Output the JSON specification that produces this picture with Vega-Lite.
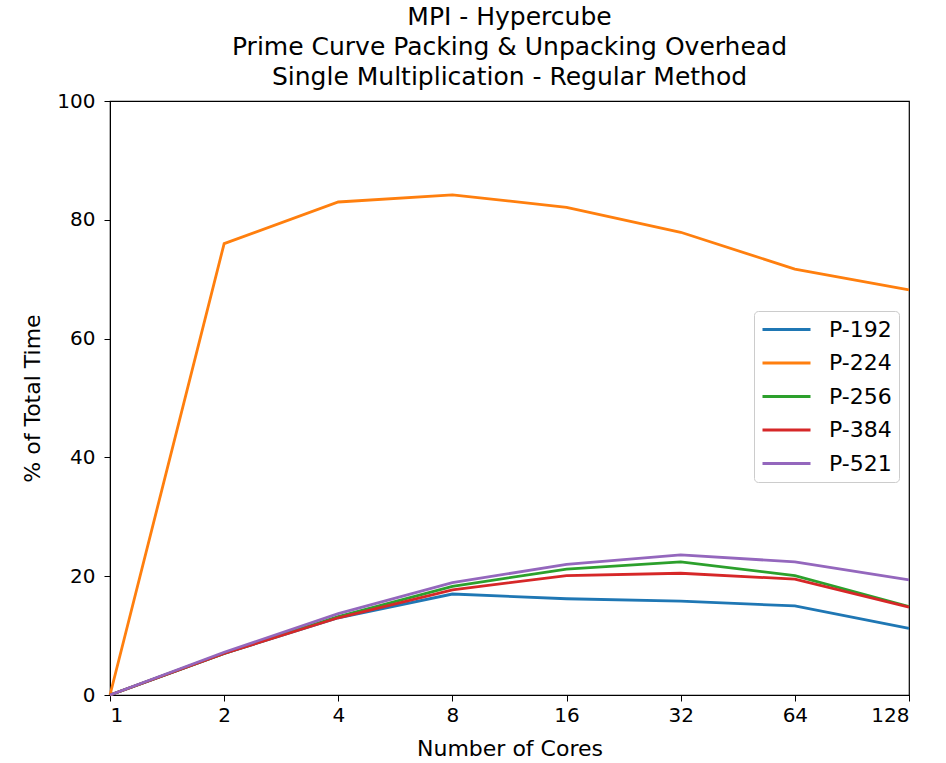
{
  "$schema": "https://vega.github.io/schema/vega-lite/v6.json",
  "width": 799,
  "height": 594,
  "autosize": {"type": "none"},
  "padding": {"left": 110, "top": 101, "right": 37, "bottom": 68},
  "background": "white",
  "title": {
    "text": ["MPI - Hypercube", "Prime Curve Packing & Unpacking Overhead", "Single Multiplication - Regular Method"],
    "font": "DejaVu Sans",
    "fontSize": 25,
    "fontWeight": "normal",
    "color": "#000000",
    "lineHeight": 30,
    "anchor": "middle",
    "offset": 1
  },
  "config": {
    "view": {"stroke": "#000000", "strokeWidth": 1.2},
    "axis": {
      "labelFont": "DejaVu Sans",
      "titleFont": "DejaVu Sans",
      "labelFontSize": 20,
      "titleFontSize": 22,
      "titleFontWeight": "normal",
      "labelColor": "#000000",
      "titleColor": "#000000",
      "domainColor": "#000000",
      "tickColor": "#000000",
      "tickSize": 6,
      "grid": false
    }
  },
  "data": {
    "values": [
      {"cores": 1, "series": "P-192", "pct": 0},
      {"cores": 2, "series": "P-192", "pct": 7.0},
      {"cores": 4, "series": "P-192", "pct": 13.0},
      {"cores": 8, "series": "P-192", "pct": 17.0},
      {"cores": 16, "series": "P-192", "pct": 16.2},
      {"cores": 32, "series": "P-192", "pct": 15.8},
      {"cores": 64, "series": "P-192", "pct": 15.0},
      {"cores": 128, "series": "P-192", "pct": 11.2},
      {"cores": 1, "series": "P-224", "pct": 0},
      {"cores": 2, "series": "P-224", "pct": 76.0},
      {"cores": 4, "series": "P-224", "pct": 83.0},
      {"cores": 8, "series": "P-224", "pct": 84.2},
      {"cores": 16, "series": "P-224", "pct": 82.1},
      {"cores": 32, "series": "P-224", "pct": 77.9},
      {"cores": 64, "series": "P-224", "pct": 71.7},
      {"cores": 128, "series": "P-224", "pct": 68.2},
      {"cores": 1, "series": "P-256", "pct": 0},
      {"cores": 2, "series": "P-256", "pct": 7.0},
      {"cores": 4, "series": "P-256", "pct": 13.2},
      {"cores": 8, "series": "P-256", "pct": 18.3},
      {"cores": 16, "series": "P-256", "pct": 21.2},
      {"cores": 32, "series": "P-256", "pct": 22.4},
      {"cores": 64, "series": "P-256", "pct": 20.1},
      {"cores": 128, "series": "P-256", "pct": 14.9},
      {"cores": 1, "series": "P-384", "pct": 0},
      {"cores": 2, "series": "P-384", "pct": 7.0},
      {"cores": 4, "series": "P-384", "pct": 13.0},
      {"cores": 8, "series": "P-384", "pct": 17.7},
      {"cores": 16, "series": "P-384", "pct": 20.1},
      {"cores": 32, "series": "P-384", "pct": 20.5},
      {"cores": 64, "series": "P-384", "pct": 19.5},
      {"cores": 128, "series": "P-384", "pct": 14.8},
      {"cores": 1, "series": "P-521", "pct": 0},
      {"cores": 2, "series": "P-521", "pct": 7.2},
      {"cores": 4, "series": "P-521", "pct": 13.7},
      {"cores": 8, "series": "P-521", "pct": 18.9},
      {"cores": 16, "series": "P-521", "pct": 22.0},
      {"cores": 32, "series": "P-521", "pct": 23.6},
      {"cores": 64, "series": "P-521", "pct": 22.4},
      {"cores": 128, "series": "P-521", "pct": 19.4}
    ]
  },
  "mark": {"type": "line", "strokeWidth": 2.8},
  "encoding": {
    "x": {
      "field": "cores",
      "type": "quantitative",
      "scale": {"type": "log", "base": 2, "domain": [1, 128], "nice": false},
      "axis": {"values": [1, 2, 4, 8, 16, 32, 64, 128], "format": "d", "title": "Number of Cores", "titlePadding": 13, "labelPadding": 4}
    },
    "y": {
      "field": "pct",
      "type": "quantitative",
      "scale": {"domain": [0, 100], "nice": false},
      "axis": {"values": [0, 20, 40, 60, 80, 100], "title": "% of Total Time", "titlePadding": 12, "labelPadding": 9}
    },
    "color": {
      "field": "series",
      "type": "nominal",
      "scale": {
        "domain": ["P-192", "P-224", "P-256", "P-384", "P-521"],
        "range": ["#1f77b4", "#ff7f0e", "#2ca02c", "#d62728", "#9467bd"]
      },
      "legend": {
        "title": null,
        "orient": "none",
        "legendX": 644,
        "legendY": 210,
        "symbolType": "M-1,0L3.8,0",
        "symbolSize": 400,
        "symbolStrokeWidth": 2.8,
        "symbolFillColor": "transparent",
        "labelFont": "DejaVu Sans",
        "labelFontSize": 22,
        "labelColor": "#000000",
        "rowPadding": 10.5,
        "padding": 7,
        "strokeColor": "#cccccc",
        "cornerRadius": 4,
        "fillColor": "white",
        "labelOffset": 45
      }
    }
  }
}
